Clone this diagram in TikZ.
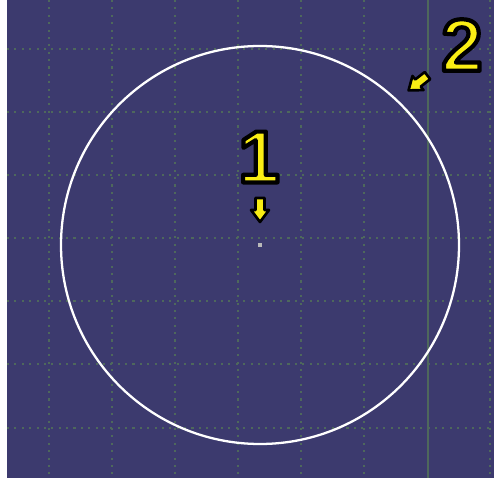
\documentclass[tikz,border=0pt]{standalone}
\usepackage{fontspec}
\setmainfont{Liberation Sans}
\definecolor{ViewBlue}{RGB}{60, 58, 110}
\definecolor{GridGreen}{RGB}{78, 104, 92}
\definecolor{MarkYellow}{RGB}{250, 238, 20}
\usepackage{tikz}
\usetikzlibrary{positioning}
% yellow digit with a black rim (fill, then stroke)
\newcommand{\rimtext}[1]{\textcolor{MarkYellow}{\special{pdf:literal direct 2 Tr 0 G 2.4 w 1 j}#1\special{pdf:literal direct 0 Tr}}}

\begin{document}
\begin{tikzpicture}[x=0.02cm, y=-0.02cm,
	gridline/.style={GridGreen, line width=1pt, dash pattern=on 1.2pt off 3pt},
	callout/.style={font=\fontsize{42}{42}\bfseries\selectfont, inner sep=0pt},
	pointer/.style={fill=MarkYellow, draw=black, line width=1.5pt, line join=round}]
	\useasboundingbox (0,0) rectangle (494,483);
	\fill[white] (0,0) rectangle (494,483);
	\fill[ViewBlue] (7,0) rectangle (494,478);
	% grid
	\foreach \g in {49,112,175,238,301,364,490}
		\draw[gridline] (\g,0) -- (\g,478);
	\draw[GridGreen, line width=1.2pt] (428,0) -- (428,478);
	\foreach \g in {49,112,175,238,301,364,428}
		\draw[gridline] (7,\g) -- (494,\g);
	% sketch
	\node[fill=gray!55, minimum size=0.08cm, inner sep=0pt] (center) at (260,245) {};
	\draw[white, line width=1.3pt] (center) circle[radius=199];
	% labels
	\foreach \px/\py/\ang in {260/210/-90, 418/83/218}
		\draw[pointer, shift={(\px,\py)}, rotate=\ang]
			(-12,-4.5) -- (0,-4.5) -- (0,-9) -- (12,0) -- (0,9) -- (0,4.5) -- (-12,4.5) -- cycle;
	\node[callout] (one) at (259,157) {\rimtext{1}};
	\node[callout] (two) at (462,45) {\rimtext{2}};
\end{tikzpicture}
\end{document}
